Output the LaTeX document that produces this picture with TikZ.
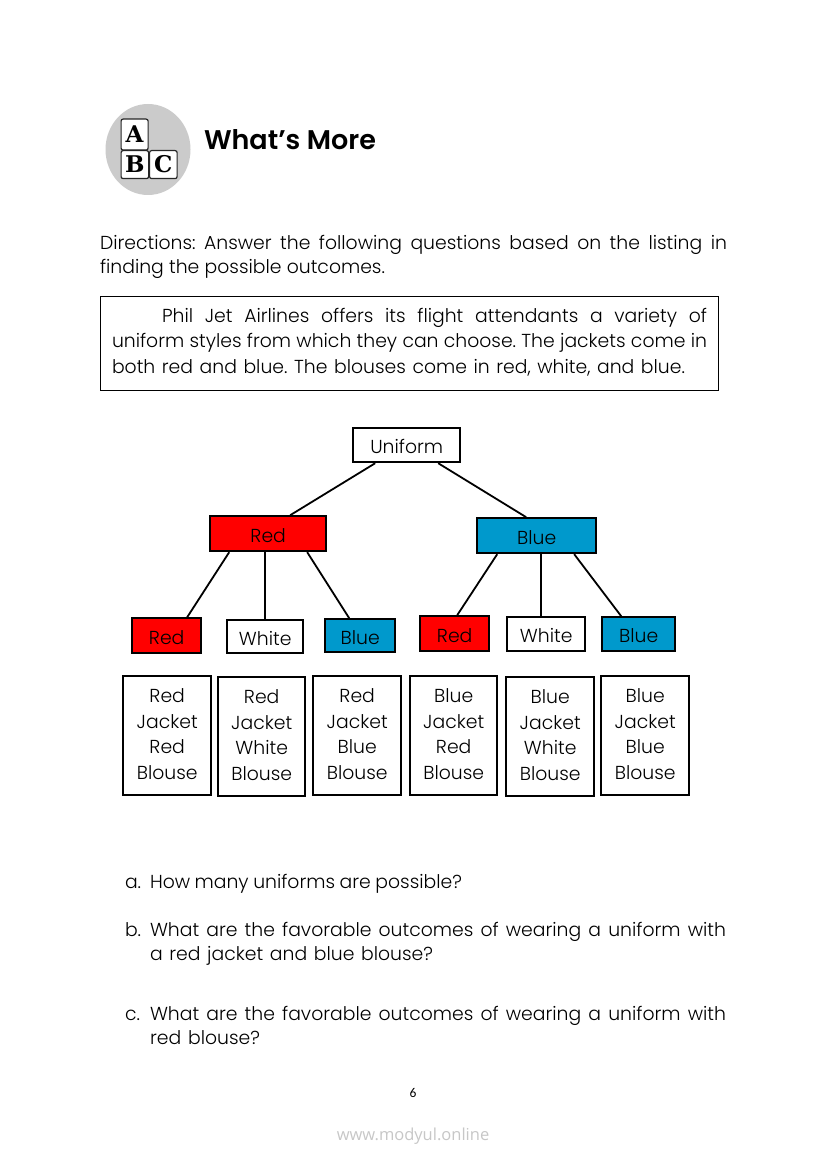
\documentclass[tikz,border=0pt]{standalone}
\usepackage{fontspec}
\usetikzlibrary{shapes.geometric}
\setmainfont{Poppins Light}
\newfontfamily\titlefont{Poppins SemiBold}
\newfontfamily\slabfont{DejaVu Serif}
\newfontfamily\footfont{Carlito}
\newfontfamily\markfont{Open Sans}
\definecolor{bluefill}{HTML}{0099CC}
\definecolor{iconbg}{HTML}{CBCBCB}
\newcommand{\jline}[2]{\hbox to #1pt{\frenchspacing\spaceskip=.3em plus 1fil minus .15em\relax #2}}
\tikzset{
  x=1pt,y=-1pt,
  treebox/.style={draw=black,line width=2pt,inner sep=0pt,xshift=-.8pt,yshift=.8pt,font=\fontsize{18.8}{20}\selectfont,text=black,anchor=north west,align=center},
  labelbox/.style={treebox,text height=17pt,text depth=0pt},
  outbox/.style={treebox,fill=white,minimum width=88pt,minimum height=119pt,text depth=3pt,font=\fontsize{18.8}{25.6}\selectfont},
  link/.style={draw=black,line width=1.8pt},
  txt/.style={anchor=base west,inner sep=0pt,outer sep=0pt,font=\fontsize{18.8}{20}\selectfont},
  block/.style={draw=black!85,line width=1.2pt,rounded corners=2pt,fill=white,inner sep=0pt,font=\slabfont\bfseries\fontsize{23}{23}\selectfont,anchor=north west},
}
\begin{document}
\begin{tikzpicture}
\useasboundingbox (0,0) rectangle (826,1169);
\fill[white] (0,0) rectangle (826,1169);
% icon
\node[ellipse,fill=iconbg,minimum width=85pt,minimum height=91pt,inner sep=0pt] (icon) at (148,149.5) {};
\node[block,minimum width=27pt,minimum height=31pt] (ba) at (120.5,118.5) {A};
\node[block,minimum width=27.5pt,minimum height=28pt] (bb) at (120.5,150) {B};
\node[block,minimum width=27.5pt,minimum height=28pt] (bc) at (149,150) {C};
\node[txt,font=\titlefont\fontsize{27}{28}\selectfont] (title) at (204,150) {What’s More};
% directions
\node[txt] (d1) at (100,249) {\jline{627}{Directions: Answer the following questions based on the listing in}};
\node[txt] (d2) at (100,273) {\jline{285}{finding the possible outcomes.}};
% problem box
\node[treebox,line width=1pt,minimum width=617.5pt,minimum height=94pt] (prob) at (100.8,296.6) {};
\node[txt] (p1) at (162,322) {\jline{545}{Phil Jet Airlines offers its flight attendants a variety of}};
\node[txt] (p2) at (112,347) {\jline{595}{uniform styles from which they can choose. The jackets come in}};
\node[txt] (p3) at (112,373) {\jline{573}{both red and blue. The blouses come in red, white, and blue.}};
% tree
\node[labelbox,fill=white,minimum width=107pt,minimum height=34pt] (uni) at (353,428) {Uniform};
\node[labelbox,fill=red,minimum width=116pt,minimum height=35pt] (jr) at (210,516) {Red};
\node[labelbox,fill=bluefill,minimum width=119pt,minimum height=35pt] (jb) at (477,518) {Blue};
\node[labelbox,fill=red,minimum width=69pt,minimum height=35pt] (r1) at (132,618) {Red};
\node[labelbox,fill=white,minimum width=76pt,minimum height=33pt] (r2) at (227,620) {White};
\node[labelbox,fill=bluefill,minimum width=70pt,minimum height=33pt] (r3) at (325,619) {Blue};
\node[labelbox,fill=red,minimum width=69pt,minimum height=35pt] (r4) at (420,616) {Red};
\node[labelbox,fill=white,minimum width=78pt,minimum height=34pt] (r5) at (507,617) {White};
\node[labelbox,fill=bluefill,minimum width=73pt,minimum height=34pt] (r6) at (602,617) {Blue};
\node[outbox] (o1) at (123,676) {Red\\Jacket\\Red\\Blouse};
\node[outbox,minimum width=87pt] (o2) at (218,677) {Red\\Jacket\\White\\Blouse};
\node[outbox] (o3) at (313,676) {Red\\Jacket\\Blue\\Blouse};
\node[outbox,minimum width=87pt] (o4) at (410,676) {Blue\\Jacket\\Red\\Blouse};
\node[outbox] (o5) at (506,677) {Blue\\Jacket\\White\\Blouse};
\node[outbox] (o6) at (601,676) {Blue\\Jacket\\Blue\\Blouse};
% connectors
\draw[link] ([xshift=23pt]uni.south west) -- ([xshift=81pt]jr.north west);
\draw[link] ([xshift=86pt]uni.south west) -- ([xshift=50pt]jb.north west);
\draw[link] ([xshift=20pt]jr.south west) -- ([xshift=56pt]r1.north west);
\draw[link] ([xshift=56pt]jr.south west) -- ([xshift=39pt]r2.north west);
\draw[link] ([xshift=98pt]jr.south west) -- ([xshift=25pt]r3.north west);
\draw[link] ([xshift=21pt]jb.south west) -- ([xshift=38pt]r4.north west);
\draw[link] ([xshift=65pt]jb.south west) -- ([xshift=35pt]r5.north west);
\draw[link] ([xshift=98pt]jb.south west) -- ([xshift=20pt]r6.north west);
% questions
\node[txt] (la) at (125,888) {a.};
\node[txt] (qa) at (150,888) {\jline{312}{How many uniforms are possible?}};
\node[txt] (lb) at (125,936) {b.};
\node[txt] (qb) at (150,936) {\jline{576}{What are the favorable outcomes of wearing a uniform with}};
\node[txt] (qb2) at (150,960) {\jline{283}{a red jacket and blue blouse?}};
\node[txt] (lc) at (125,1020) {c.};
\node[txt] (qc) at (150,1020) {\jline{576}{What are the favorable outcomes of wearing a uniform with}};
\node[txt] (qc2) at (150,1044) {\jline{110}{red blouse?}};
% footer
\node[txt,anchor=base,font=\footfont\fontsize{13.5}{14}\selectfont] (pg) at (413,1097) {6};
\node[txt,anchor=base,font=\markfont\fontsize{16.5}{16}\selectfont,text=black!22] (wm) at (413,1140) {www.modyul.online};
\end{tikzpicture}
\end{document}
